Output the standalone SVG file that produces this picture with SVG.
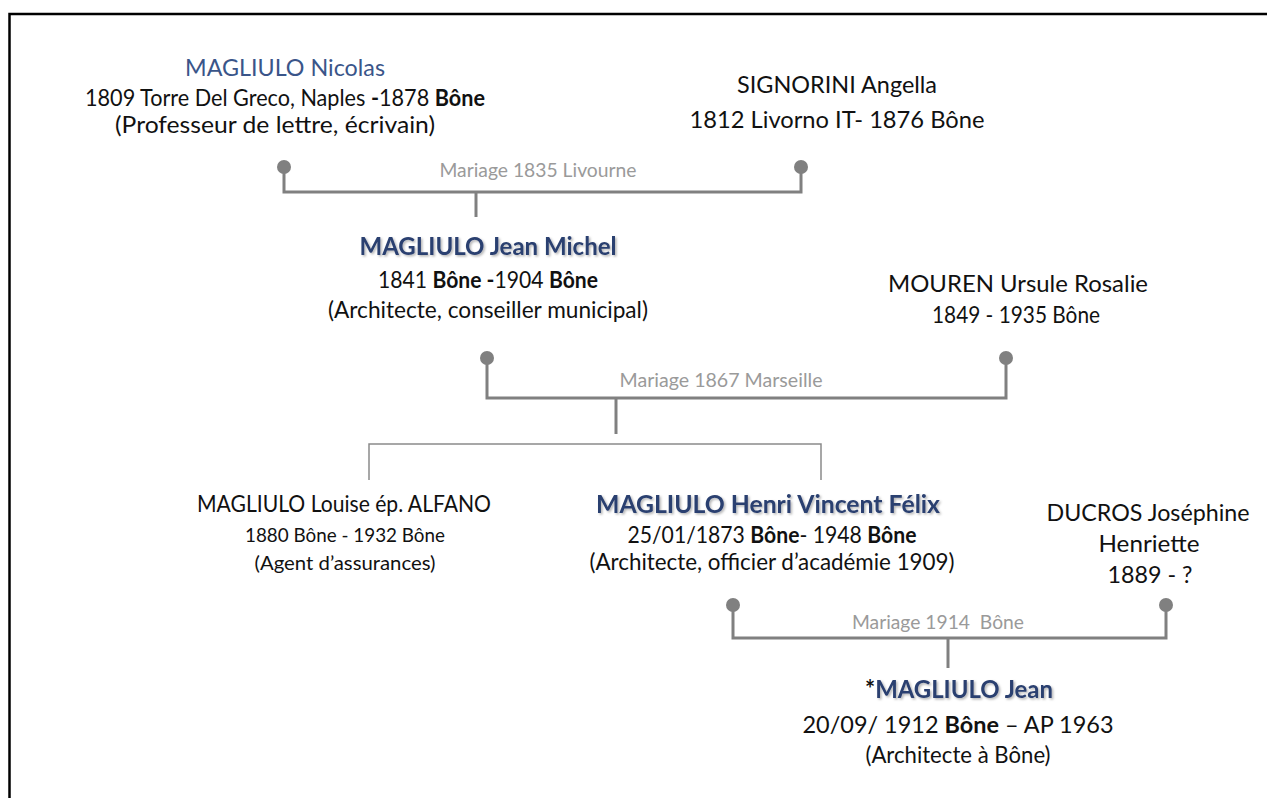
<svg xmlns="http://www.w3.org/2000/svg" width="1267" height="798" viewBox="0 0 1267 798">
<style>
text{font-family:Lato,"Liberation Sans",sans-serif;text-anchor:middle;fill:#111}
.nm{font-size:24px}
.dt{font-size:23px}
.sm{font-size:20px}
.b{font-weight:700}
.blue{fill:#3a5589}
.bb{fill:#2a3f6f;font-weight:700;filter:url(#sh)}
.mar{font-size:19.5px;fill:#9a9a9a}
.ln{fill:none;stroke:#808080;stroke-width:3}
.thin{fill:none;stroke:#8a8a8a;stroke-width:1.5}
.dot{fill:#808080}
</style>
<defs>
<filter id="sh" x="-10%" y="-30%" width="120%" height="160%">
<feDropShadow dx="1.5" dy="1.5" stdDeviation="1" flood-color="#000" flood-opacity="0.3"/>
</filter>
</defs>
<rect width="1267" height="798" fill="#fff"/>
<path d="M9.5,798 V14 H1267" fill="none" stroke="#000" stroke-width="2.5"/>

<g id="connectors">
<path class="ln" d="M284,167 V192 H801 V167"/>
<path class="ln" d="M476,192 V217"/>
<circle class="dot" cx="284" cy="167" r="7"/>
<circle class="dot" cx="801" cy="167" r="7"/>
<text class="mar" x="538" y="177" textLength="197" lengthAdjust="spacingAndGlyphs">Mariage 1835 Livourne</text>

<path class="ln" d="M487,358 V398 H1006 V358"/>
<path class="ln" d="M616,398 V434"/>
<circle class="dot" cx="487" cy="358" r="7"/>
<circle class="dot" cx="1006" cy="358" r="7"/>
<text class="mar" x="721" y="387" textLength="203" lengthAdjust="spacingAndGlyphs">Mariage 1867 Marseille</text>

<path class="thin" d="M369,480 V444 H821 V480"/>

<path class="ln" d="M733,605 V638 H1166 V605"/>
<path class="ln" d="M948,638 V668"/>
<circle class="dot" cx="733" cy="605" r="7"/>
<circle class="dot" cx="1166" cy="605" r="7"/>
<text class="mar" x="938" y="629" textLength="172" lengthAdjust="spacingAndGlyphs" xml:space="preserve">Mariage 1914  Bône</text>
</g>

<g id="n-nicolas">
<text class="nm blue" x="285" y="76" textLength="200" lengthAdjust="spacingAndGlyphs">MAGLIULO Nicolas</text>
<text class="dt" x="285" y="106" textLength="400" lengthAdjust="spacingAndGlyphs">1809 Torre Del Greco, Naples <tspan class="b">-</tspan>1878 <tspan class="b">Bône</tspan></text>
<text class="dt" x="275" y="133" textLength="320" lengthAdjust="spacingAndGlyphs">(Professeur de lettre, écrivain)</text>
</g>

<g id="n-angella">
<text class="nm" x="837" y="93" textLength="200" lengthAdjust="spacingAndGlyphs">SIGNORINI Angella</text>
<text class="nm" x="837" y="128" textLength="295" lengthAdjust="spacingAndGlyphs">1812 Livorno IT- 1876 Bône</text>
</g>

<g id="n-jeanmichel">
<text class="nm bb" x="488" y="255" textLength="257" lengthAdjust="spacingAndGlyphs">MAGLIULO Jean Michel</text>
<text class="dt" x="488" y="288" textLength="220" lengthAdjust="spacingAndGlyphs">1841 <tspan class="b">Bône -</tspan>1904 <tspan class="b">Bône</tspan></text>
<text class="dt" x="488" y="318" textLength="320" lengthAdjust="spacingAndGlyphs">(Architecte, conseiller municipal)</text>
</g>

<g id="n-mouren">
<text class="nm" x="1018" y="292" textLength="260" lengthAdjust="spacingAndGlyphs">MOUREN Ursule Rosalie</text>
<text class="dt" x="1016" y="323" textLength="168" lengthAdjust="spacingAndGlyphs">1849 - 1935 Bône</text>
</g>

<g id="n-louise">
<text class="dt" x="344" y="512" textLength="294" lengthAdjust="spacingAndGlyphs">MAGLIULO Louise ép. ALFANO</text>
<text class="sm" x="345" y="542" textLength="200" lengthAdjust="spacingAndGlyphs">1880 Bône - 1932 Bône</text>
<text class="sm" x="345" y="570" textLength="181" lengthAdjust="spacingAndGlyphs">(Agent d’assurances)</text>
</g>

<g id="n-henri">
<text class="nm bb" x="768" y="513" textLength="344" lengthAdjust="spacingAndGlyphs">MAGLIULO Henri Vincent Félix</text>
<text class="dt" x="772" y="543" textLength="289" lengthAdjust="spacingAndGlyphs">25/01/1873 <tspan class="b">Bône</tspan>- 1948 <tspan class="b">Bône</tspan></text>
<text class="dt" x="772" y="570" textLength="365" lengthAdjust="spacingAndGlyphs">(Architecte, officier d’académie 1909)</text>
</g>

<g id="n-ducros">
<text class="nm" x="1148" y="521" textLength="203" lengthAdjust="spacingAndGlyphs">DUCROS Joséphine</text>
<text class="nm" x="1149" y="552" textLength="101" lengthAdjust="spacingAndGlyphs">Henriette</text>
<text class="nm" x="1150" y="583" textLength="85" lengthAdjust="spacingAndGlyphs">1889 - ?</text>
</g>

<g id="n-jean">
<text class="nm" x="959" y="698" textLength="188" lengthAdjust="spacingAndGlyphs"><tspan class="b">*</tspan><tspan class="bb">MAGLIULO Jean</tspan></text>
<text class="dt" x="958" y="733" textLength="311" lengthAdjust="spacingAndGlyphs">20/09/ 1912 <tspan class="b">Bône</tspan> – AP 1963</text>
<text class="dt" x="958" y="763" textLength="185" lengthAdjust="spacingAndGlyphs">(Architecte à Bône)</text>
</g>
</svg>
